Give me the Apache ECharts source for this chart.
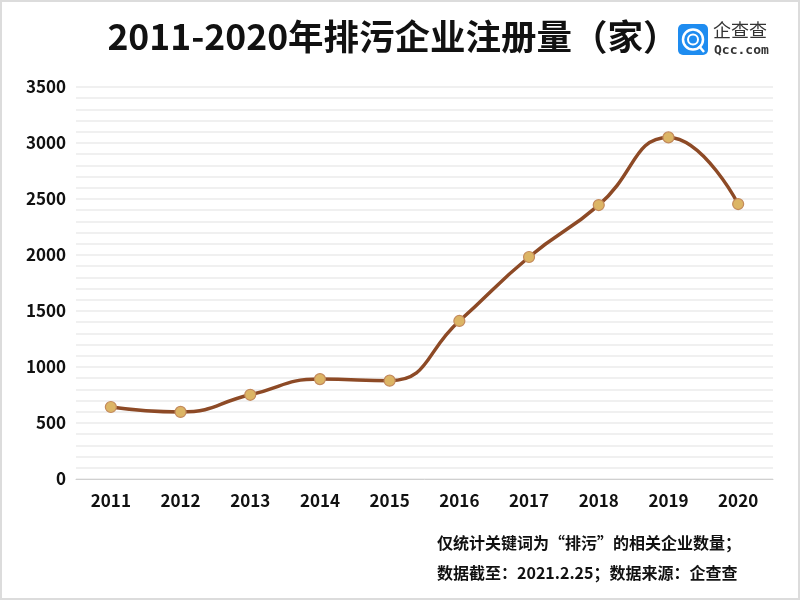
<!DOCTYPE html>
<html><head><meta charset="utf-8">
<script src="https://cdn.jsdelivr.net/npm/echarts@6/dist/echarts.min.js"></script>
<style>html,body{margin:0;padding:0;background:#fff}#c{width:800px;height:600px;box-sizing:border-box;border:2px solid #dcdcdc}</style>
</head><body><div id="c"></div>
<script>
const years = ['2011','2012','2013','2014','2015','2016','2017','2018','2019','2020'];
const counts = [643, 599, 752, 892, 878, 1411, 1982, 2446, 3050, 2455];
const yTicks = [0, 500, 1000, 1500, 2000, 2500, 3000, 3500];
const titleText = '2011-2020年排污企业注册量（家）';
const noteLines = ['仅统计关键词为“排污”的相关企业数量；', '数据截至：2021.2.25；数据来源：企查查'];
const F = '"Noto Sans CJK SC","Noto Sans",sans-serif';
const chart = echarts.init(document.getElementById('c'));
chart.setOption({
  animation:false,
  grid:{left:74,right:25,top:85,bottom:119},
  xAxis:{type:'category',data:years,boundaryGap:true,
    axisLine:{lineStyle:{color:'#d0d0d0',width:1}},axisTick:{show:false},
    axisLabel:{color:'#111',fontSize:17,fontWeight:'bold',fontFamily:F,margin:13}},
  yAxis:{type:'value',min:0,max:3500,interval:100,
    axisLine:{show:false},axisTick:{show:false},
    splitLine:{lineStyle:{color:'#ebebeb',width:1.5}},
    axisLabel:{color:'#111',fontSize:17,fontWeight:'bold',fontFamily:F,margin:10,
      formatter:v=>yTicks.includes(v)?String(v):''}},
  series:[{type:'line',data:counts,smooth:0.5,
    lineStyle:{color:'#8d4a26',width:3.5},
    symbol:'circle',symbolSize:11,
    itemStyle:{color:'#dcb565',borderColor:'#c48a5c',borderWidth:1.2}}],
  graphic:[
    {type:'text',x:391,y:17,style:{text:titleText,font:'bold 35.5px '+F,fill:'#111',textAlign:'center'}},
    {type:'rect',shape:{x:676,y:22,width:30,height:31,r:5},style:{fill:'#1e8cf0'}},
    {type:'circle',shape:{cx:691,cy:37.5,r:10},style:{fill:'none',stroke:'#fff',lineWidth:2.5}},
    {type:'circle',shape:{cx:691,cy:37.5,r:5},style:{fill:'none',stroke:'#fff',lineWidth:2}},
    {type:'line',shape:{x1:697,y1:44,x2:702,y2:50},style:{stroke:'#fff',lineWidth:2.5}},
    {type:'text',left:711,top:19,style:{text:'企查查',font:'18px '+F,fill:'#333'}},
    {type:'text',left:712,top:42,style:{text:'Qcc.com',font:'bold 13px "DejaVu Sans Mono",monospace',fill:'#333'}},
    {type:'text',left:435,top:533,style:{text:noteLines[0],font:'bold 16px '+F,fill:'#111'}},
    {type:'text',left:435,top:563,style:{text:noteLines[1],font:'bold 16px '+F,fill:'#111'}}
  ]
});
</script></body></html>
